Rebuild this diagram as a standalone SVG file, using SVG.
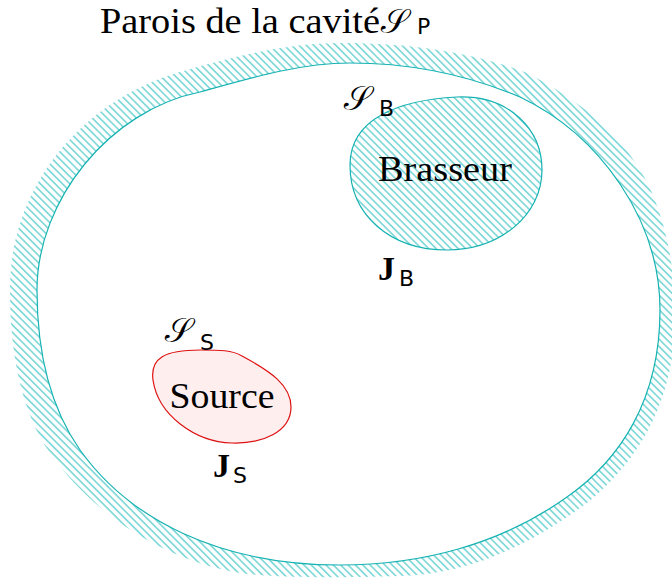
<svg xmlns="http://www.w3.org/2000/svg" width="672" height="581" viewBox="0 0 672 581">
<defs>
<pattern id="hatch" patternUnits="userSpaceOnUse" width="5.2" height="5.2" patternTransform="rotate(45)">
<line x1="-1" y1="2.6" x2="6.2" y2="2.6" stroke="#3cc2c2" stroke-width="1.1"/>
</pattern>
</defs>
<style>
.wall{stroke:#17b2b2;stroke-width:1.2;}
.serif{font-family:"Liberation Serif","DejaVu Serif",serif;fill:#000;}
.sans{font-family:"DejaVu Sans","Liberation Sans",sans-serif;fill:#000;font-size:22px;}
.scr{font-family:"DejaVu Sans","Noto Sans Math","Liberation Serif",serif;font-size:33px;fill:#000;}
.bold{font-family:"Liberation Serif","DejaVu Serif",serif;font-size:34px;font-weight:bold;fill:#000;}
</style>
<rect width="672" height="581" fill="#fff"/>
<g id="cavite">
<path d="M 10,290 C 10,180 90,95 187,70 C 240,55 290,43 340,43 C 420,43 480,55 527,73 C 580,100 620,135 640,170 C 665,210 676,270 675,320 C 674,400 640,460 587,503 C 530,545 470,574 400,576 C 330,578 280,578 240,573 C 160,560 90,510 50,453 C 20,410 10,350 10,290 Z" fill="url(#hatch)"/>
<path class="wall" d="M 37,290 C 37,200 110,110 200,92 C 250,78 300,63 350,63 C 420,63 475,78 520,97 C 600,135 660,220 660,310 C 660,400 620,460 567,497 C 500,545 420,565 340,565 C 220,565 130,520 80,450 C 45,400 37,340 37,290 Z" fill="#fff"/>
</g>
<g id="brasseur">
<path class="wall" d="M 350,165 C 350,118 400,100 457,97 C 510,95 542,130 542,170 C 542,215 500,250 447,250 C 390,250 350,215 350,165 Z" fill="url(#hatch)"/>
<text class="serif" x="445" y="181" font-size="35" text-anchor="middle" textLength="134" lengthAdjust="spacingAndGlyphs">Brasseur</text>
</g>
<g id="source">
<path d="M 153,380 C 150,358 165,350 200,350 C 220,350 232,350 242,356 C 270,371 291,385 291,407 C 291,432 262,444 232,443 C 195,442 158,415 153,380 Z" fill="#ffeeee" stroke="#dd1111" stroke-width="1.2"/>
<text class="serif" x="222" y="408" font-size="35" text-anchor="middle" textLength="105" lengthAdjust="spacingAndGlyphs">Source</text>
</g>
<g id="titre">
<text class="serif" x="100" y="33" font-size="36" textLength="280" lengthAdjust="spacingAndGlyphs">Parois de la cavité</text>
<text class="scr" x="380" y="33">𝒮</text>
<text class="sans" x="417" y="34">P</text>
</g>
<g id="label-SB">
<text class="scr" x="343" y="110">𝒮</text>
<text class="sans" x="379" y="116">B</text>
</g>
<g id="label-JB">
<text class="bold" x="378" y="280">J</text>
<text class="sans" x="399" y="286">B</text>
</g>
<g id="label-SS">
<text class="scr" x="164" y="342">𝒮</text>
<text class="sans" x="200" y="350">S</text>
</g>
<g id="label-JS">
<text class="bold" x="213" y="477">J</text>
<text class="sans" x="233" y="483">S</text>
</g>
<g id="connectors"/>
</svg>
